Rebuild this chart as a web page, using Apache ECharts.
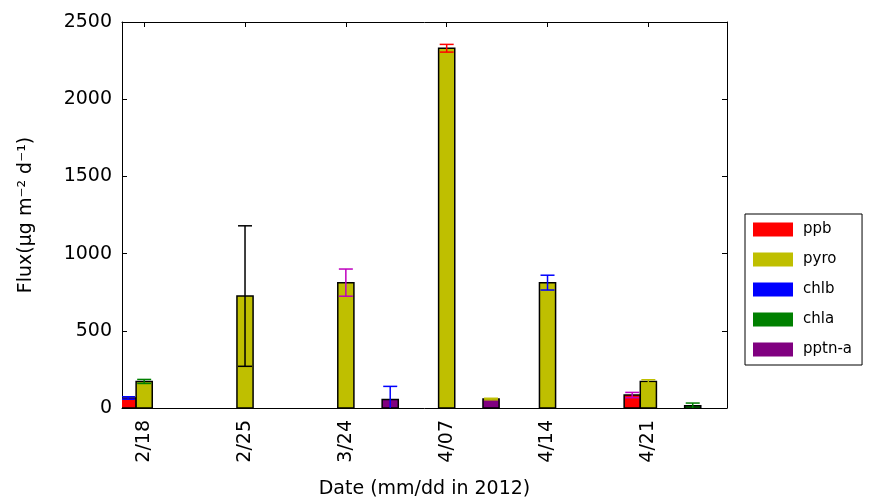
<!DOCTYPE html>
<html>
<head>
<meta charset="utf-8">
<script src="https://cdn.jsdelivr.net/npm/echarts@6/dist/echarts.min.js"></script>
<style>
  html, body { margin: 0; padding: 0; background: #fff; }
  #flux { width: 869px; height: 504px; }
</style>
</head>
<body>
<div id="flux"></div>
<script>
// dates on the x axis
var dates = ['2/18', '2/25', '3/24', '4/07', '4/14', '4/21'];

// flux values per pigment, one entry per date (null = no bar)
var ppb      = [65, null, null, null, null, 84];
var ppbErr   = [8, null, null, null, null, 17];
var pyro     = [172, 725, 812, 2330, 812, 172];
var pyroErr  = [13, 455, 88, 25, 48, 11];
var chlb     = [null, null, null, null, null, null];
var chlbErr  = [null, null, null, null, null, null];
var chla     = [null, null, null, null, null, 15];
var chlaErr  = [null, null, null, null, null, 17];
var pptnA    = [null, null, 55, 58, null, null];
var pptnAErr = [null, null, 85, 5, null, null];

// error bar colours (style only)
var ppbErrColor   = ['#0000ff', null, null, null, null, '#bf00bf'];
var pyroErrColor  = ['#008000', '#000000', '#bf00bf', '#ff0000', '#0000ff', '#bfbf00'];
var chlbErrColor  = [null, null, null, null, null, null];
var chlaErrColor  = [null, null, null, null, null, '#008000'];
var pptnAErrColor = [null, null, '#0000ff', '#bfbf00', null, null];

var BAR_W = 0.16;
var FONT = 'DejaVu Sans';

function makeSeries(name, color, values, errs, errColors, offset) {
  var data = [];
  values.forEach(function (v, i) {
    if (v != null) data.push([i, v, errs[i]]);
  });
  return {
    name: name,
    type: 'custom',
    clip: true,
    itemStyle: { color: color },
    encode: { x: 0, y: 1 },
    data: data,
    renderItem: function (params, api) {
      var i = api.value(0), v = api.value(1), e = api.value(2);
      var x = i + offset;
      var tl = api.coord([x - BAR_W / 2, v]);
      var br = api.coord([x + BAR_W / 2, 0]);
      var top = api.coord([x, v + e]);
      var bot = api.coord([x, v - e]);
      var ec = errColors[i] || '#000';
      var cap = 7;
      var es = { stroke: ec, lineWidth: 1.5 };
      return {
        type: 'group',
        children: [
          { type: 'rect', shape: { x: tl[0], y: tl[1], width: br[0] - tl[0], height: br[1] - tl[1] },
            style: { fill: color, stroke: '#000', lineWidth: 1.5 } },
          { type: 'line', shape: { x1: top[0], y1: top[1], x2: bot[0], y2: bot[1] }, style: es },
          { type: 'line', shape: { x1: top[0] - cap, y1: top[1], x2: top[0] + cap, y2: top[1] }, style: es },
          { type: 'line', shape: { x1: bot[0] - cap, y1: bot[1], x2: bot[0] + cap, y2: bot[1] }, style: es }
        ]
      };
    }
  };
}

var chart = echarts.init(document.getElementById('flux'));
var tickVals = dates.map(function (d, i) { return i; });

var option = {
  animation: false,
  backgroundColor: '#fff',
  textStyle: { fontFamily: FONT },
  grid: { left: 122, top: 22, width: 605, height: 387 },
  legend: {
    orient: 'vertical',
    left: 745,
    top: 214,
    icon: 'rect',
    itemWidth: 40,
    itemHeight: 14,
    itemGap: 15,
    padding: [8, 10, 8, 8],
    borderColor: '#000',
    borderWidth: 1,
    textStyle: { fontFamily: FONT, fontSize: 15, color: '#000', padding: [0, 0, 0, 5] },
    data: ['ppb', 'pyro', 'chlb', 'chla', 'pptn-a']
  },
  xAxis: [
    {
      type: 'value',
      min: -0.22,
      max: 5.78,
      position: 'bottom',
      name: 'Date (mm/dd in 2012)',
      nameLocation: 'middle',
      nameGap: 72,
      nameTextStyle: { fontFamily: FONT, fontSize: 19, color: '#000' },
      axisLine: { onZero: false, lineStyle: { color: '#000', width: 1 } },
      axisTick: { inside: true, length: 5, customValues: tickVals, lineStyle: { color: '#000' } },
      axisLabel: {
        customValues: tickVals,
        rotate: 90,
        margin: 12,
        fontFamily: FONT,
        fontSize: 19,
        color: '#000',
        formatter: function (v) { return dates[Math.round(v)]; }
      },
      splitLine: { show: false }
    },
    {
      type: 'value',
      min: -0.22,
      max: 5.78,
      position: 'top',
      axisLine: { onZero: false, lineStyle: { color: '#000', width: 1 } },
      axisTick: { inside: true, length: 5, customValues: tickVals, lineStyle: { color: '#000' } },
      axisLabel: { show: false },
      splitLine: { show: false }
    }
  ],
  yAxis: [
    {
      type: 'value',
      min: 0,
      max: 2500,
      interval: 500,
      position: 'left',
      name: 'Flux(μg m⁻² d⁻¹)',
      nameLocation: 'middle',
      nameGap: 86,
      nameTextStyle: { fontFamily: FONT, fontSize: 19, color: '#000' },
      axisLine: { show: true, onZero: false, lineStyle: { color: '#000', width: 1 } },
      axisTick: { show: true, inside: true, length: 5, lineStyle: { color: '#000' } },
      axisLabel: {
        margin: 10, fontFamily: FONT, fontSize: 19, color: '#000',
        formatter: function (v) { return String(v); }
      },
      splitLine: { show: false }
    },
    {
      type: 'value',
      min: 0,
      max: 2500,
      interval: 500,
      position: 'right',
      axisLine: { show: true, onZero: false, lineStyle: { color: '#000', width: 1 } },
      axisTick: { show: true, inside: true, length: 5, lineStyle: { color: '#000' } },
      axisLabel: { show: false },
      splitLine: { show: false }
    }
  ],
  series: [
    makeSeries('ppb', '#ff0000', ppb, ppbErr, ppbErrColor, -0.16),
    makeSeries('pyro', '#bfbf00', pyro, pyroErr, pyroErrColor, 0),
    makeSeries('chlb', '#0000ff', chlb, chlbErr, chlbErrColor, 0),
    makeSeries('chla', '#008000', chla, chlaErr, chlaErrColor, 0.44),
    makeSeries('pptn-a', '#800080', pptnA, pptnAErr, pptnAErrColor, 0.44)
  ]
};

chart.setOption(option);
window.addEventListener('resize', function () {
  chart.resize();
});
</script>
</body>
</html>
